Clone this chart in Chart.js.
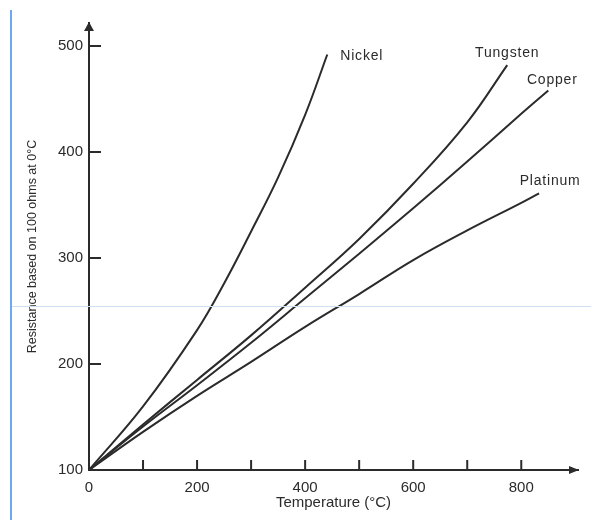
<!DOCTYPE html>
<html>
<head>
<meta charset="utf-8">
<script src="https://cdn.jsdelivr.net/npm/chart.js@4"></script>
<style>
  html, body { margin: 0; padding: 0; background: #ffffff; }
  #wrap { position: relative; width: 591px; height: 520px; overflow: hidden; }
  #c { position: absolute; left: 0; top: 0; }
  #vline { position: absolute; left: 10px; top: 10px; width: 2px; height: 510px; background: #6ea8f0; }
  #hline { position: absolute; left: 12px; top: 306px; width: 579px; height: 1px; background: #cfe0f3; }
</style>
</head>
<body>
<div id="wrap">
  <canvas id="c" width="591" height="520"></canvas>
  <div id="vline"></div>
  <div id="hline"></div>
</div>
<script>
// ---- data ----
const seriesNames = ["Nickel", "Tungsten", "Copper", "Platinum"];

const nickelT   = [0, 100, 200, 250, 300, 350, 400, 441];
const nickelR   = [100, 160, 232, 276, 325, 376, 435, 492];

const tungstenT = [0, 100, 200, 300, 400, 500, 600, 700, 774];
const tungstenR = [100, 143, 185, 227, 272, 318, 370, 428, 482];

const copperT   = [0, 100, 200, 300, 400, 500, 600, 700, 800, 850];
const copperR   = [100, 141, 180, 220, 262, 304, 347, 391, 436, 458];

const platinumT = [0, 100, 200, 300, 400, 500, 600, 700, 800, 833];
const platinumR = [100, 136, 170, 202, 235, 266, 298, 326, 352, 361];

const xTickValues = [0, 100, 200, 300, 400, 500, 600, 700, 800];
const yTickValues = [100, 200, 300, 400, 500];

const xTitle = "Temperature (°C)";
const yTitle = "Resistance based on 100 ohms at 0°C";

// ---- styling / placement (kept apart from data) ----
const ink = "#2b2b2b";
const labelOffsets = {           // pixel offsets of series names from line ends
  Nickel:   { dx: 13, dy: 2,   align: "left" },
  Tungsten: { dx: 0,  dy: -12, align: "center" },
  Copper:   { dx: 4,  dy: -10, align: "center" },
  Platinum: { dx: 11, dy: -12, align: "center" }
};

function pts(T, R) { return T.map((t, i) => ({ x: t, y: R[i] })); }
const allT = [nickelT, tungstenT, copperT, platinumT];
const allR = [nickelR, tungstenR, copperR, platinumR];

const datasets = seriesNames.map((name, i) => ({
  label: name,
  data: pts(allT[i], allR[i]),
  borderColor: ink,
  borderWidth: 2,
  pointRadius: 0,
  fill: false,
  tension: 0.4,
  clip: false
}));

const decorPlugin = {
  id: "decor",
  afterDatasetsDraw(chart) {
    const ctx = chart.ctx;
    const xs = chart.scales.x, ys = chart.scales.y;
    const a = chart.chartArea;
    ctx.save();
    ctx.strokeStyle = ink;
    ctx.fillStyle = ink;
    ctx.lineWidth = 2;
    // inward tick marks
    ys.ticks.forEach(t => {
      if (t.value === ys.min) return;
      const y = ys.getPixelForValue(t.value);
      ctx.beginPath(); ctx.moveTo(a.left, y); ctx.lineTo(a.left + 12, y); ctx.stroke();
    });
    xs.ticks.forEach(t => {
      if (t.value === xs.min) return;
      const x = xs.getPixelForValue(t.value);
      ctx.beginPath(); ctx.moveTo(x, a.bottom); ctx.lineTo(x, a.bottom - 10); ctx.stroke();
    });
    // arrow heads
    ctx.beginPath();
    ctx.moveTo(a.left, a.top - 1);
    ctx.lineTo(a.left - 5, a.top + 8);
    ctx.lineTo(a.left + 5, a.top + 8);
    ctx.closePath(); ctx.fill();
    ctx.beginPath();
    ctx.moveTo(a.right + 1, a.bottom);
    ctx.lineTo(a.right - 9, a.bottom - 4);
    ctx.lineTo(a.right - 9, a.bottom + 4);
    ctx.closePath(); ctx.fill();
    // series names at line ends
    ctx.font = "14px 'Liberation Sans', Arial, sans-serif";
    try { ctx.letterSpacing = "0.8px"; } catch (e) {}
    ctx.textBaseline = "middle";
    seriesNames.forEach((name, i) => {
      const T = allT[i], R = allR[i];
      const px = xs.getPixelForValue(T[T.length - 1]);
      const py = ys.getPixelForValue(R[R.length - 1]);
      const o = labelOffsets[name];
      ctx.textAlign = o.align;
      ctx.fillText(name, px + o.dx, py + o.dy);
    });
    ctx.restore();
  }
};

new Chart(document.getElementById("c"), {
  type: "line",
  data: { datasets },
  plugins: [decorPlugin],
  options: {
    responsive: false,
    animation: false,
    layout: { padding: { left: 0, top: 23, right: 13, bottom: 0 } },
    plugins: { legend: { display: false }, tooltip: { enabled: false } },
    scales: {
      x: {
        type: "linear",
        min: 0,
        max: 905,
        grid: { display: false, drawTicks: false },
        border: { display: true, color: ink, width: 2 },
        afterBuildTicks: s => { s.ticks = xTickValues.map(v => ({ value: v })); },
        afterFit: s => { s.height = 50; },
        ticks: {
          autoSkip: false,
          maxRotation: 0,
          padding: 9,
          color: ink,
          font: { family: "'Liberation Sans', Arial, sans-serif", size: 15 },
          callback: v => (v % 200 === 0 ? String(v) : "")
        },
        title: {
          display: true,
          text: xTitle,
          color: ink,
          font: { family: "'Liberation Sans', Arial, sans-serif", size: 15 },
          padding: { top: 0, bottom: 8 }
        }
      },
      y: {
        type: "linear",
        min: 100,
        max: 521.7,
        grid: { display: false, drawTicks: false },
        border: { display: true, color: ink, width: 2 },
        afterBuildTicks: s => { s.ticks = yTickValues.map(v => ({ value: v })); },
        afterFit: s => { s.width = 89; },
        ticks: {
          autoSkip: false,
          padding: 6,
          color: ink,
          font: { family: "'Liberation Sans', Arial, sans-serif", size: 15 },
          callback: v => String(v)
        },
        title: {
          display: true,
          text: yTitle,
          color: ink,
          font: { family: "'Liberation Sans', Arial, sans-serif", size: 12.5 },
          padding: { top: 25, bottom: 0 }
        }
      }
    }
  }
});
</script>
</body>
</html>
